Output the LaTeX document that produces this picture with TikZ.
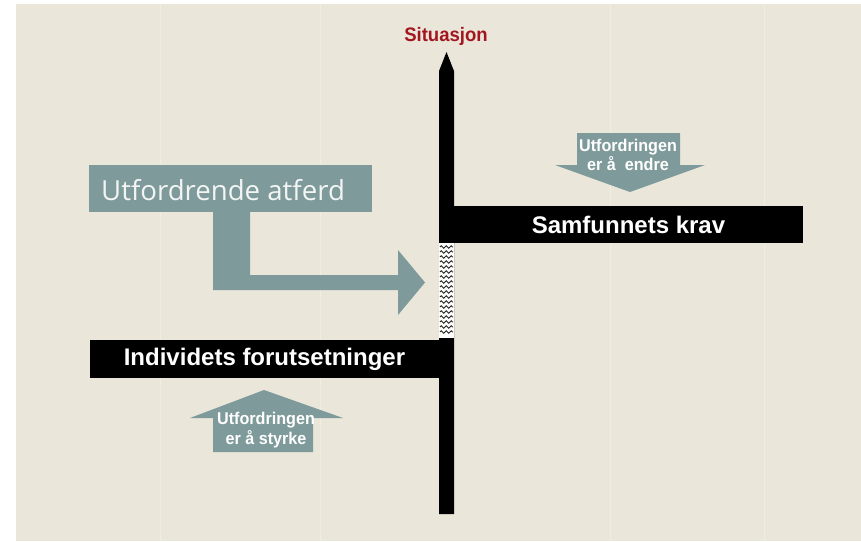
\documentclass[tikz,border=0pt]{standalone}
\usepackage{fontspec}
\setmainfont{Liberation Sans}
\newfontfamily\narrowsans[FakeStretch=0.95]{Liberation Sans}
\newfontfamily\opensans{Open Sans}
\usetikzlibrary{decorations.pathmorphing}
\definecolor{paper}{HTML}{EAE6DA}
\definecolor{slate}{HTML}{7E9A9B}
\definecolor{sitred}{HTML}{A3161F}
\definecolor{pale}{HTML}{F2F5F3}
\tikzset{
  bartext/.style={text=white, inner sep=0pt, font=\bfseries\fontsize{24}{26}\selectfont},
  smalltext/.style={text=white, inner sep=0pt, font=\narrowsans\bfseries\fontsize{17}{19.5}\selectfont, align=center},
  arrowshape/.style={fill=slate, draw=none},
  zz/.style={draw=black!85, line width=0.9pt, decorate, decoration={zigzag, segment length=5pt, amplitude=1.3pt}},
}
\begin{document}
\begin{tikzpicture}[x=1pt,y=-1pt]
\useasboundingbox (0,0) rectangle (861,541);
\fill[white] (0,0) rectangle (861,541);
\fill[paper] (16,4) rectangle (861,541);
\foreach \x in {160,320,610,764}{
  \draw[white!30!paper, line width=0.8pt] (\x,4) -- (\x,541);
}

% horizontal bars
\fill[black] (454,206) rectangle (803,243);
\node[bartext] (samf) at (628.5,224.5) {Samfunnets krav};
\fill[black] (90,340) rectangle (439,378);
\node[bartext] (indiv) at (264.5,359) {Individets forutsetninger};

% vertical pencil bar
\fill[black] (439,514) -- (439,71) -- (446.5,52) -- (454,71) -- (454,514) -- cycle;
\node[text=sitred, inner sep=0pt, font=\narrowsans\bfseries\fontsize{19.5}{21}\selectfont] (sit) at (446,36) {Situasjon};

% broken section
\fill[white!92!paper] (439,243) rectangle (454,338);
\foreach \y in {247,252,...,335}{
  \draw[zz] (440,\y) -- (453,\y);
}

% Utfordrende atferd box and L-arrow
\fill[slate] (89,165) rectangle (372,212);
\fill[arrowshape] (213,211) -- (213,290) -- (398,290) -- (398,315) -- (425,282.5)
  -- (398,250) -- (398,275) -- (250,275) -- (250,211) -- cycle;
\node[text=pale, inner sep=0pt, anchor=base west, font=\opensans\fontsize{27.6}{30}\selectfont] (atf) at (101,200) {Utfordrende atferd};

% down arrow
\fill[arrowshape] (577,133) -- (680,133) -- (680,165) -- (705,165) -- (630,192)
  -- (555,165) -- (577,165) -- cycle;
\node[smalltext] (endre) at (628,155) {Utfordringen\\er å~ endre};

% up arrow
\fill[arrowshape] (264,390) -- (343,418) -- (313,418) -- (313,452) -- (213,452)
  -- (213,418) -- (190,418) -- cycle;
\node[smalltext] (styrke) at (266,430) {Utfordringen\\er å styrke};
\end{tikzpicture}
\end{document}
